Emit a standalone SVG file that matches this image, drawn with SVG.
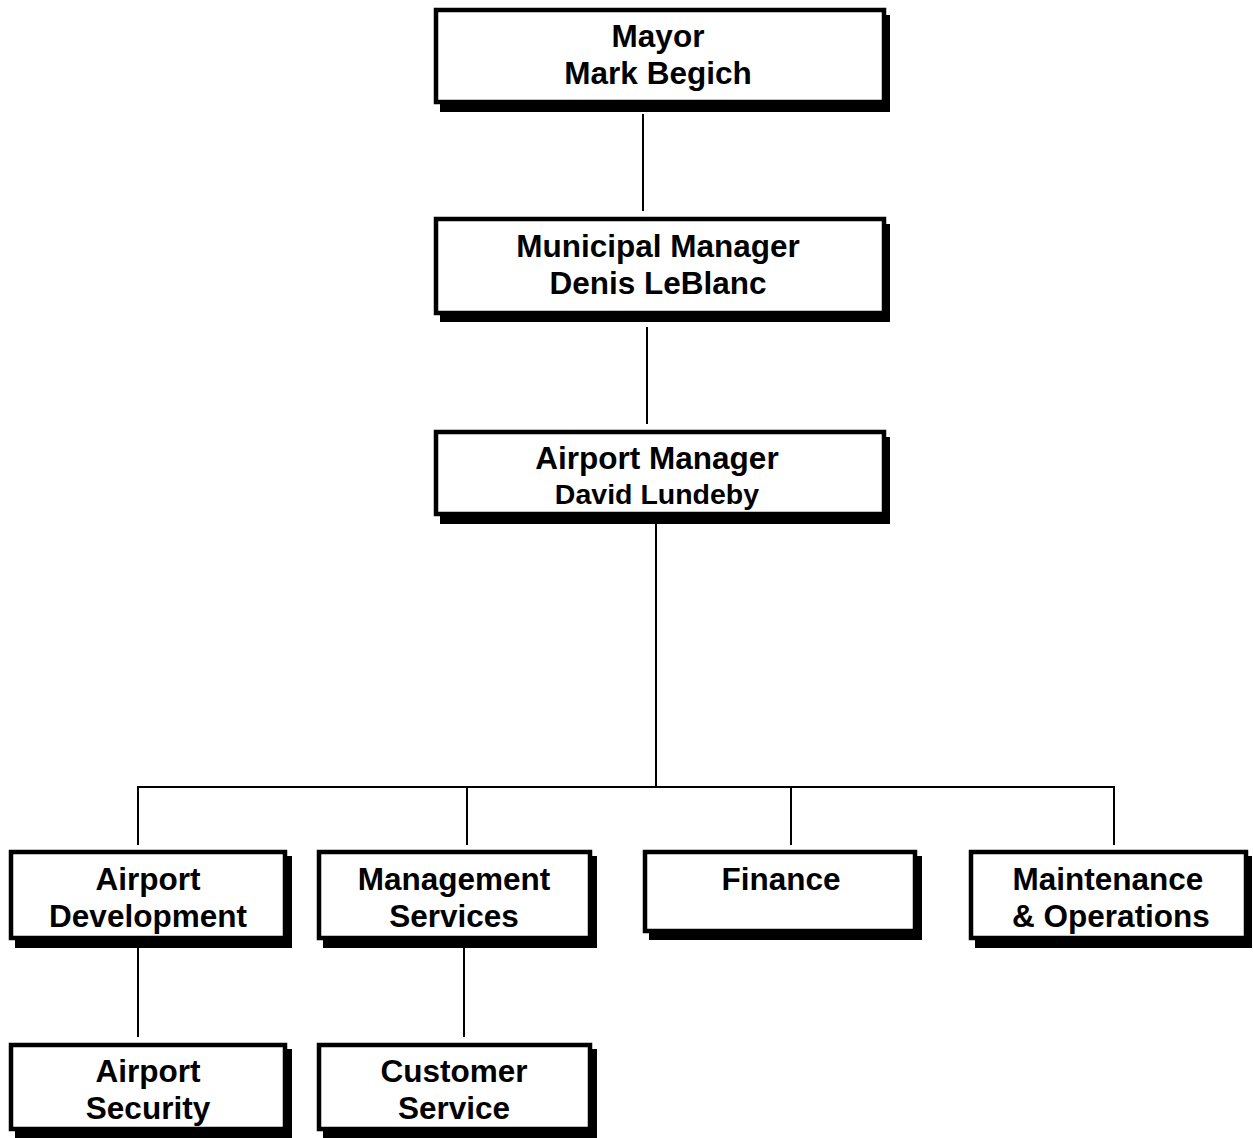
<svg xmlns="http://www.w3.org/2000/svg" width="1253" height="1138" viewBox="0 0 1253 1138">
<style>
.sh{fill:#000;}
.bx{fill:#fff;stroke:#000;stroke-width:4.5;}
.t{font-family:"Liberation Sans",Arial,sans-serif;font-weight:bold;font-size:31.5px;fill:#000;text-anchor:middle;}
.ts{font-size:28.5px;}
.ln{stroke:#000;stroke-width:2;fill:none;}
</style>
<rect width="1253" height="1138" fill="#fff"/>
<g id="connectors">
<line class="ln" x1="643" y1="114" x2="643" y2="211"/>
<line class="ln" x1="647" y1="327" x2="647" y2="424"/>
<line class="ln" x1="656" y1="523" x2="656" y2="787"/>
<line class="ln" x1="137" y1="787" x2="1115" y2="787"/>
<line class="ln" x1="138" y1="787" x2="138" y2="845"/>
<line class="ln" x1="467" y1="787" x2="467" y2="845"/>
<line class="ln" x1="791" y1="787" x2="791" y2="845"/>
<line class="ln" x1="1114" y1="787" x2="1114" y2="845"/>
<line class="ln" x1="138" y1="948" x2="138" y2="1037"/>
<line class="ln" x1="464" y1="948" x2="464" y2="1037"/>
</g>
<g id="mayor">
<rect class="sh" x="440" y="15" width="450" height="97"/>
<rect class="bx" x="436" y="10" width="448" height="92"/>
<text class="t" x="658" y="47">Mayor</text>
<text class="t" x="658" y="84">Mark Begich</text>
</g>
<g id="municipal-manager">
<rect class="sh" x="440" y="224" width="450" height="98"/>
<rect class="bx" x="436" y="219" width="448" height="94"/>
<text class="t" x="658" y="257">Municipal Manager</text>
<text class="t" x="658" y="294">Denis LeBlanc</text>
</g>
<g id="airport-manager">
<rect class="sh" x="440" y="437" width="450" height="87"/>
<rect class="bx" x="436" y="432" width="448" height="82"/>
<text class="t" x="657" y="469">Airport Manager</text>
<text class="t ts" x="657" y="504">David Lundeby</text>
</g>
<g id="airport-development">
<rect class="sh" x="15" y="856" width="277" height="92"/>
<rect class="bx" x="11" y="852" width="274" height="86"/>
<text class="t" x="148" y="890">Airport</text>
<text class="t" x="148" y="927">Development</text>
</g>
<g id="management-services">
<rect class="sh" x="323" y="856" width="274" height="92"/>
<rect class="bx" x="319" y="852" width="271" height="86"/>
<text class="t" x="454" y="890">Management</text>
<text class="t" x="454" y="927">Services</text>
</g>
<g id="finance">
<rect class="sh" x="649" y="856" width="273" height="84"/>
<rect class="bx" x="645" y="852" width="270" height="79"/>
<text class="t" x="781" y="890">Finance</text>
</g>
<g id="maintenance-operations">
<rect class="sh" x="975" y="856" width="277" height="92"/>
<rect class="bx" x="971" y="852" width="275" height="86"/>
<text class="t" x="1108" y="890">Maintenance</text>
<text class="t" x="1111" y="927">&amp; Operations</text>
</g>
<g id="airport-security">
<rect class="sh" x="15" y="1049" width="277" height="89"/>
<rect class="bx" x="11" y="1045" width="274" height="84"/>
<text class="t" x="148" y="1082">Airport</text>
<text class="t" x="148" y="1119">Security</text>
</g>
<g id="customer-service">
<rect class="sh" x="323" y="1049" width="274" height="89"/>
<rect class="bx" x="319" y="1045" width="271" height="84"/>
<text class="t" x="454" y="1082">Customer</text>
<text class="t" x="454" y="1119">Service</text>
</g>
</svg>
